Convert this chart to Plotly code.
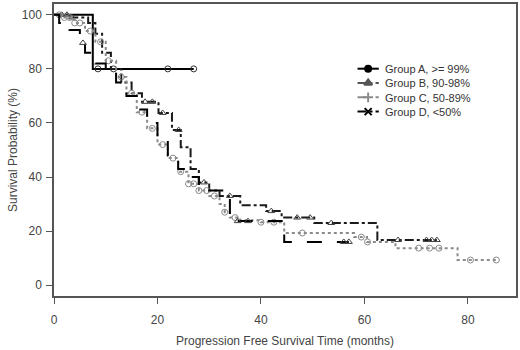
import numpy as np
import plotly.graph_objects as go

# ---- data ----
a_t = [0, 7.5, 27]
a_s = [100, 80, 80]
a_cens = [8.5, 11.5, 22, 27]

b_t = [0, 3, 6.6, 8, 9.3, 11, 13, 15, 17, 20.2, 20.6, 22.8, 24.5, 26.4, 28, 30, 32, 36, 41, 44, 50.3, 62.5, 74]
b_s = [100, 99, 97, 93, 86, 80, 75, 71, 67.8, 63.7, 63.7, 57.4, 51, 43, 38, 35, 33, 29.6, 27.4, 25, 23, 16.7, 16.7]
b_cens = [1.5, 2.5, 3.5, 17.6, 19, 21, 24.1, 29, 34, 42, 47, 49.5, 53.6, 66.5, 72, 73, 74]

c_t = [0, 2, 4, 6, 8, 10, 12, 14, 16, 18, 20, 22, 24, 26, 28, 30, 32, 33, 34, 36, 40, 44.5, 58, 60.5, 66, 78, 85.5]
c_s = [100, 99, 97, 94, 90, 83, 77, 71, 64, 58, 52, 47, 42, 37.5, 35, 33, 30, 27, 25, 24, 23.3, 19.3, 17.8, 16, 13.7, 9.3, 9.3]
c_cens = [1, 2, 3, 4, 5, 7, 9, 10.5, 13, 15, 17, 19, 21, 23, 24.5, 26, 27, 28, 29.5, 31, 33, 35, 40, 42.5, 48, 59.4, 60.6, 70.5, 72.6, 74.4, 80.5, 85.5]

d_t = [0, 1, 3, 5, 6, 8, 10, 12, 14, 16, 18, 20, 22, 24, 26, 28, 30, 34, 44.5, 57]
d_s = [100, 97, 94.4, 89.6, 86, 82, 79, 75, 70, 65, 60, 54, 48, 43, 40, 37, 35, 23.7, 16, 16]
d_cens = [5.6, 35.5, 37.5, 56, 57]

names = ["Group A, >= 99%", "Group B, 90-98%", "Group C, 50-89%", "Group D, <50%"]
line_colors = ["#000000", "#1a1a1a", "#8a8a8a", "#000000"]
dashes = ["solid", "dashdot", "dot", "longdash"]
leg_dashes = ["solid", "dashdot", "dash", "dashdot"]
leg_symbols = ["circle", "triangle-up", "cross-thin", "x-thin"]
leg_colors = ["#000000", "#555555", "#8a8a8a", "#000000"]
cens_symbols = ["circle-open", "triangle-up-open", "circle-open", "triangle-up-open"]
cens_colors = ["#333333", "#444444", "#8a8a8a", "#444444"]

FONT = "Liberation Sans, Arial"
TXT = "#444444"


def step_val(ts, ss, t):
    idx = np.searchsorted(np.array(ts), t, side="right") - 1
    return ss[max(idx, 0)]


fig = go.Figure()
groups = [(a_t, a_s, a_cens), (b_t, b_s, b_cens), (c_t, c_s, c_cens), (d_t, d_s, d_cens)]
for i, (ts, ss, cs) in enumerate(groups):
    fig.add_trace(go.Scatter(x=ts, y=ss, mode="lines", line_shape="hv",
                             line=dict(color=line_colors[i], width=2, dash=dashes[i]),
                             showlegend=False, hoverinfo="skip"))
    fig.add_trace(go.Scatter(x=cs, y=[step_val(ts, ss, t) for t in cs], mode="markers",
                             marker=dict(symbol=cens_symbols[i], size=6, color=cens_colors[i],
                                         line=dict(width=1, color=cens_colors[i])),
                             showlegend=False, hoverinfo="skip"))

# ---- compact legend on an overlay axis (0..1 in both directions) ----
leg_x0, leg_x1, txt_x = 0.657, 0.703, 0.713
row_step = 14.3 / 292.0
row_mid = 0.705
row_y = [row_mid + (1.5 - k) * row_step for k in range(4)]
for i in range(4):
    fig.add_trace(go.Scatter(x=[leg_x0, leg_x1], y=[row_y[i], row_y[i]], mode="lines",
                             line=dict(color=leg_colors[i], width=2, dash=leg_dashes[i]),
                             xaxis="x2", yaxis="y2", showlegend=False, hoverinfo="skip"))
    fig.add_trace(go.Scatter(x=[(leg_x0 + leg_x1) / 2], y=[row_y[i]], mode="markers",
                             marker=dict(symbol=leg_symbols[i], size=7 if i != 0 else 6,
                                         color=leg_colors[i],
                                         line=dict(width=2, color=leg_colors[i])),
                             xaxis="x2", yaxis="y2", showlegend=False, hoverinfo="skip"))
fig.add_annotation(x=txt_x, y=row_mid, xref="x2", yref="y2", text="<br>".join(names),
                   showarrow=False, xanchor="left", yanchor="middle", align="left",
                   font=dict(family=FONT, size=11, color="#333333"))

axis_common = dict(showline=True, linecolor="#555555", linewidth=1.5, mirror=True,
                   ticks="outside", ticklen=6, tickcolor="#555555", showgrid=False, zeroline=False,
                   automargin=False,
                   tickfont=dict(family=FONT, size=12, color=TXT))

fig.update_layout(
    xaxis=dict(range=[0, 89.3], tickvals=[0, 20, 40, 60, 80], ticklabelstandoff=6,
               title=dict(text="Progression Free Survival Time (months)", standoff=10,
                          font=dict(family=FONT, size=12, color=TXT)),
               **axis_common),
    yaxis=dict(range=[-4, 104], tickvals=[0, 20, 40, 60, 80, 100], ticklabelstandoff=2,
               title=dict(text="Survival Probability (%)", standoff=2,
                          font=dict(family=FONT, size=12, color=TXT)),
               **axis_common),
    xaxis2=dict(overlaying="x", range=[0, 1], visible=False, fixedrange=True),
    yaxis2=dict(overlaying="y", range=[0, 1], visible=False, fixedrange=True),
    width=520, height=350, margin=dict(l=54, r=4, t=4, b=54),
    paper_bgcolor="white", plot_bgcolor="white", showlegend=False,
)

fig.write_html("out.html", config={"displayModeBar": False},
               post_script="document.body.style.margin='0';")
